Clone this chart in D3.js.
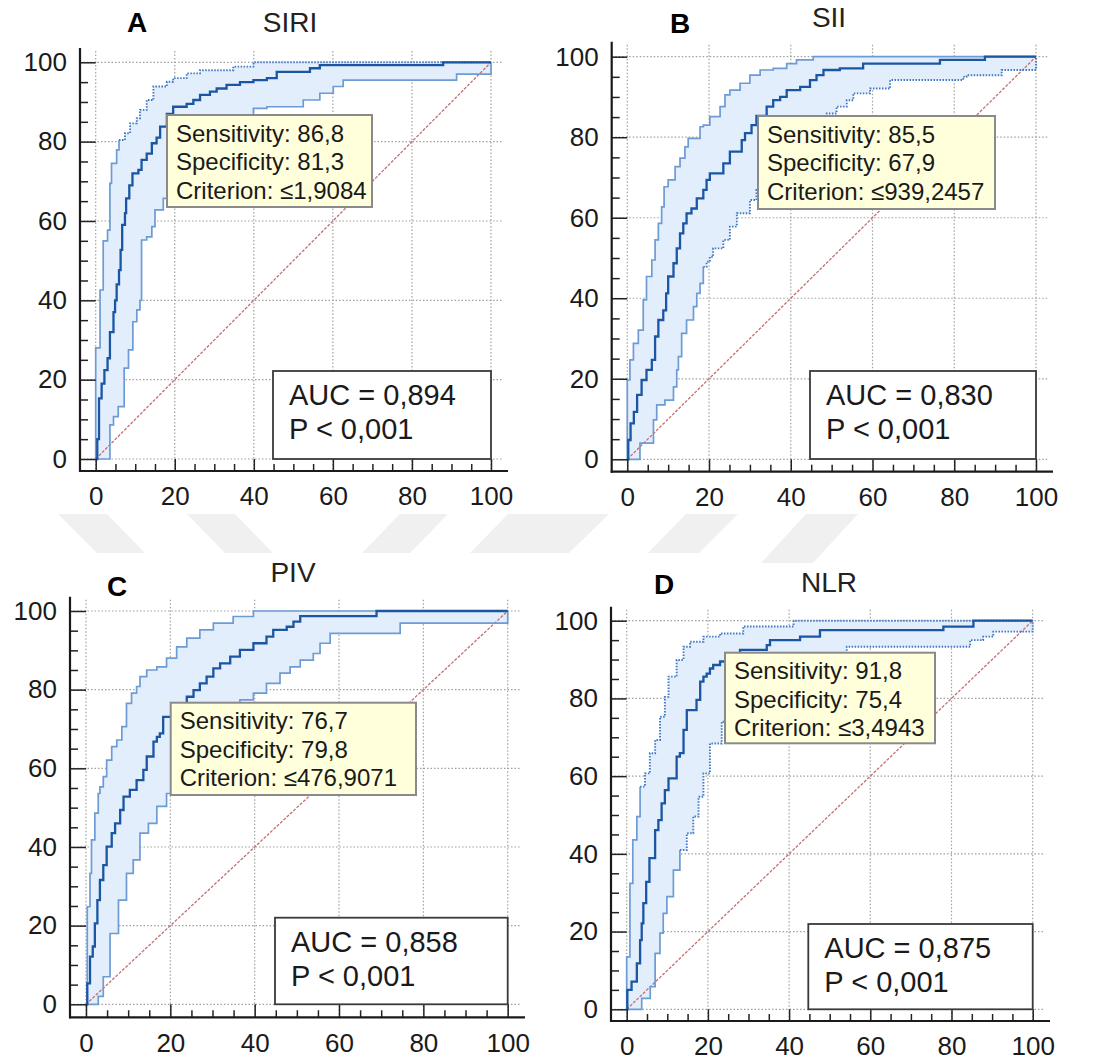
<!DOCTYPE html>
<html>
<head>
  <meta charset="utf-8">
  <script src="https://d3js.org/d3.v7.min.js"></script>
  <style>
  body { margin: 0; background: #fff; }
  svg text { font-family: "Liberation Sans", Arial, sans-serif; fill: #1a1a1a; }
  </style>
</head>
<body>
<svg id="chart" width="1116" height="1063"></svg>
<script>
// ---- data: [100-specificity, sensitivity] ----
var siriMain = [[0,0],[0.4,5],[0.84,15.3],[1.5,19],[2.2,22.4],[3.0,25.4],[3.6,32],[4.5,37],[4.9,40],[5.3,44],[5.9,47.6],[6.3,52.7],[6.7,59],[7.4,62],[7.7,65.7],[8.5,69],[9.3,72],[10.8,72.9],[11.6,75.4],[12.9,77],[14.2,79.6],[15.4,81],[16.3,83.8],[18,87],[19.6,88.8],[23,89.5],[24.7,90.5],[26.4,91.8],[28.9,92.6],[30.6,93.4],[33.1,94.3],[36.5,95],[39.9,95.5],[43.3,96],[45.8,97.6],[54.2,98.5],[56.7,99.3],[87.9,100],[100,100]];
var siriUpper = [[0,0],[0,28],[1.1,42.6],[1.9,55],[3.0,57.7],[3.6,69.5],[4.0,74.5],[5.3,77.9],[5.9,80.4],[7.4,82.1],[8.7,84.6],[10.4,85.9],[11.2,88],[12.9,90.5],[14.6,93.9],[18,95.1],[19.6,96],[23,97.2],[26.4,98],[34.8,98.9],[39.9,100],[100,100]];
var siriLower = [[0,0],[3.6,8.6],[4.5,10.7],[5.7,13.2],[7.2,22.9],[8.3,27.5],[9.4,34.6],[10.4,37.6],[11.2,40],[11.6,55.2],[12.9,56],[14.2,58.6],[15,62.8],[17.1,65.7],[18.8,68.7],[21.3,73.7],[24.7,83.8],[29.8,84.6],[39.9,88.4],[43.3,88.8],[52.5,90.5],[56.7,92.2],[60.1,93.9],[62.6,95.5],[91.3,97],[100,97],[100,100]];

var siiMain = [[0,0],[0.24,4.8],[0.8,8.9],[1.6,11.8],[2.4,16],[3.5,19.7],[4.7,22.2],[6.0,24.7],[6.8,30.5],[7.6,34.6],[8.8,37],[9.5,41.2],[10.0,45.4],[11.3,48.7],[12.1,52.4],[12.9,56.1],[13.7,58.6],[14.5,61.1],[15.7,62.3],[17.0,64.8],[18.6,66.9],[19.4,69.4],[20.2,71],[23.5,73.5],[25.1,76.4],[28.0,79.3],[28.8,81],[30.4,83],[31.6,85.3],[34.1,87.6],[35.7,89.2],[37.4,90],[39.0,91.7],[42.3,92.5],[44.7,94.2],[46.3,95.4],[48.0,96.7],[52.0,97.1],[57.7,98.3],[76.5,99.2],[87.5,100],[100,100]];
var siiUpper = [[0,0],[0,19.7],[0.65,24.7],[1.5,28.8],[2.7,32.1],[3.9,39.6],[4.7,45.4],[6.0,49.5],[6.8,54.5],[7.6,58.6],[8.4,62.7],[9.0,67.7],[10.0,69.4],[11.7,72.7],[12.9,74.8],[14.1,77.6],[14.9,79.7],[17.8,82.6],[18.6,83],[20.2,85.1],[22.7,87.6],[23.9,90.5],[25.1,91.7],[27.6,93.4],[30.0,95.4],[32.5,96.7],[35.7,97.1],[39.0,98.3],[41.4,99.2],[45.5,100],[100,100]];
var siiLower = [[0,0],[3.1,4],[6.4,9.8],[7.2,13.5],[9.2,14.7],[11.3,18],[12.1,22.2],[12.5,25.5],[13.3,31.3],[14.5,34.6],[16.2,37.9],[17.0,41.2],[17.8,43.7],[18.6,47.8],[19.4,49.1],[20.2,50.3],[21.0,52.4],[23.5,54.5],[25.1,57.8],[26.8,61.1],[30.0,64.4],[31.6,66.9],[35.7,73],[40.6,78],[45.5,83],[48.8,85.9],[51.2,87.6],[53.7,89.2],[55.3,90.9],[59.4,92.1],[64.3,94.2],[82.2,95],[83.0,95.4],[91.6,96.7],[100,96.7],[100,100]];

var pivMain = [[0,0],[0.3,5.3],[0.95,12.1],[1.6,14.7],[2.1,20.6],[2.7,26.5],[3.3,31.6],[4.1,35.4],[4.9,40.1],[6.1,43.5],[6.9,46],[8.1,49.4],[8.9,52.8],[10.4,54.5],[12.0,57],[13.6,59.6],[14.4,63],[16.0,66.8],[16.8,68],[17.5,68.9],[18.3,73.1],[20.7,75.3],[22.3,76.5],[23.9,78.2],[25.5,79.9],[27.0,81.6],[28.6,83.3],[30.2,85.4],[31.8,86.7],[34.2,88.4],[36.5,90.1],[39.7,91.8],[42.8,93.5],[44.4,95.2],[47.6,96],[49.2,97.3],[50.8,98.7],[68.9,100],[100,100]];
var pivUpper = [[0,0],[0.3,24.8],[0.95,33.3],[1.3,41.8],[2.1,48.6],[2.9,53.6],[3.3,55.3],[4.1,57.9],[4.9,62.1],[6.1,65.5],[7.3,67.2],[8.5,70.6],[9.6,76.5],[10.8,79.1],[12.0,80.8],[12.8,83.3],[14.4,85],[16.8,85.8],[19.1,88],[21.5,90.9],[23.9,93.1],[27.0,95.2],[30.2,96.9],[34.9,98.6],[39.7,100],[100,100]];
var pivLower = [[0,0],[2.9,2],[4.1,7],[5.7,18],[7.7,26.5],[9.6,33.3],[11.2,36.7],[12.8,43.5],[14.8,46],[16.8,50.3],[19.1,53.6],[20.7,58.7],[27,66],[33.4,73],[36.5,77.4],[39.7,79.1],[42.8,81.6],[46,84.2],[48.4,85.8],[50.8,87.5],[53.9,89.2],[55.5,91.8],[57.9,94.3],[74.5,96.9],[100,96.9],[100,100]];

var nlrMain = [[0,0],[0.16,5],[1.2,7.1],[2.5,11.8],[3.3,17.8],[3.7,22.1],[4.1,27.3],[4.8,32.8],[5.6,38.9],[7.0,46.1],[7.8,48.7],[8.6,53],[9.4,56.4],[10.3,59.4],[12.3,65],[13.1,65.9],[14.0,71.9],[14.8,77],[17.2,79.6],[18.1,84.3],[18.9,85.6],[19.7,86.4],[20.5,87.7],[21.3,88.6],[23.0,89.5],[24.6,90.7],[27.9,92.5],[34.5,93.7],[35.3,95],[42.7,95.9],[47.6,97.6],[78.0,98.5],[85.4,100],[100,100]];
var nlrUpper = [[0,0],[0,13.5],[0.8,32.4],[1.5,43.6],[2.5,49.6],[3.3,57.3],[4.5,60.7],[5.7,65.9],[7.0,69.3],[8.2,75.3],[9.4,80.4],[10.3,85.6],[12.3,89.9],[14.0,93.3],[15.6,94.6],[18.9,95.9],[23.0,96.7],[28.7,98.5],[41.1,100],[100,100]];
var nlrLower = [[0,0],[3.7,2.8],[5.8,5.8],[7.0,14.4],[8.2,19.6],[9.0,24.7],[9.9,29],[11.5,35.8],[13.1,41],[14.8,45.3],[16.4,49.6],[17.7,54.7],[18.9,60.7],[20.5,68.4],[23.4,74],[27.9,78],[36.1,84],[44.3,89],[54.2,93.3],[84.6,95],[87.8,95.9],[90.3,97.2],[100,97.2],[100,100]];

var letters = ["A", "B", "C", "D"];
var titles = ["SIRI", "SII", "PIV", "NLR"];
var sensitivity = ["86,8", "85,5", "76,7", "91,8"];
var specificity = ["81,3", "67,9", "79,8", "75,4"];
var criterion = ["≤1,9084", "≤939,2457", "≤476,9071", "≤3,4943"];
var aucValues = ["0,894", "0,830", "0,858", "0,875"];
var pValues = ["< 0,001", "< 0,001", "< 0,001", "< 0,001"];
var majorTicks = [0, 20, 40, 60, 80, 100];
var minorTicks = [5, 10, 15, 25, 30, 35, 45, 50, 55, 65, 70, 75, 85, 90, 95];

// ---- layout (pixel boxes of each panel) ----
var panels = [
  {main: siriMain, upper: siriUpper, lower: siriLower, dotUpper: 5.9, dotLower: null,
   x0: 95.7, x1: 491, y0: 459, y1: 62.3, axisX: 80, axisY: 471, axisTop: 48, axisRight: 508,
   letter: [137, 32], title: [290, 32], tip: [167, 115, 205, 92], auc: [273, 371, 218, 88]},
  {main: siiMain, upper: siiUpper, lower: siiLower, dotUpper: null, dotLower: 18,
   x0: 627.3, x1: 1036, y0: 459.3, y1: 56.7, axisX: 611.7, axisY: 471.7, axisTop: 41.7, axisRight: 1053,
   letter: [680, 33], title: [829, 27], tip: [758, 116, 237, 93], auc: [810, 371, 226, 88]},
  {main: pivMain, upper: pivUpper, lower: pivLower, dotUpper: null, dotLower: null,
   x0: 86, x1: 507.7, y0: 1004.3, y1: 611, axisX: 70, axisY: 1017.3, axisTop: 596.7, axisRight: 525,
   letter: [117, 596], title: [293, 582], tip: [170.7, 702.7, 245.3, 92.3], auc: [275, 917.7, 232.7, 86.6]},
  {main: nlrMain, upper: nlrUpper, lower: nlrLower, dotUpper: 3.3, dotLower: 13,
   x0: 626.7, x1: 1032.7, y0: 1009.3, y1: 620.7, axisX: 611, axisY: 1021, axisTop: 606.7, axisRight: 1050,
   letter: [664, 594], title: [829, 592], tip: [725, 652.7, 210, 90.6], auc: [808.3, 924, 224.4, 85.3]}
];

// faint watermark stripes between the rows
var stripes = [
  [[58,514],[107,514],[145,553],[97,553]],
  [[187,514],[235,514],[273,553],[225,553]],
  [[400,514],[448,514],[410,553],[362,553]],
  [[508,514],[609,514],[569,553],[470,553]],
  [[686,514],[738,514],[699,553],[648,553]],
  [[806,514],[858,514],[813,563],[761,563]]
];

var svg = d3.select("#chart");
svg.append("rect").attr("width", 1116).attr("height", 1063).attr("fill", "#fff");

svg.selectAll(".stripe").data(stripes).enter().append("polygon")
  .attr("class", "stripe")
  .attr("points", function(d) { return d.map(function(p) { return p.join(","); }).join(" "); })
  .attr("fill", "#f0f0f0");

var mainColor = "#1b56a3", boundColor = "#6d9bd4", fillColor = "#e3eefc";

panels.forEach(function(p, i) {
  var x = d3.scaleLinear().domain([0, 100]).range([p.x0, p.x1]);
  var y = d3.scaleLinear().domain([0, 100]).range([p.y0, p.y1]);
  var g = svg.append("g");

  var stepLine = d3.line().x(function(d) { return x(d[0]); }).y(function(d) { return y(d[1]); }).curve(d3.curveStepAfter);
  var stepBack = d3.line().x(function(d) { return x(d[0]); }).y(function(d) { return y(d[1]); }).curve(d3.curveStepBefore);

  // grid
  g.selectAll(".hgrid").data(majorTicks).enter().append("line")
    .attr("x1", p.axisX).attr("x2", x(100) + 12)
    .attr("y1", function(d) { return y(d); }).attr("y2", function(d) { return y(d); })
    .attr("stroke", "#a0a0a0").attr("stroke-width", 1.2).attr("stroke-dasharray", "1.5,2");
  g.selectAll(".vgrid").data(majorTicks).enter().append("line")
    .attr("y1", p.axisTop + 3).attr("y2", p.axisY)
    .attr("x1", function(d) { return x(d); }).attr("x2", function(d) { return x(d); })
    .attr("stroke", "#a0a0a0").attr("stroke-width", 1.2).attr("stroke-dasharray", "1.5,2");

  // confidence band
  var back = stepBack(p.lower.slice().reverse()).replace(/^M/, "L");
  g.append("path").attr("d", stepLine(p.upper) + back + "Z").attr("fill", fillColor);

  // diagonal
  g.append("line")
    .attr("x1", x(0)).attr("y1", y(0)).attr("x2", x(100)).attr("y2", y(100))
    .attr("stroke", "#c46f6f").attr("stroke-width", 1.3).attr("stroke-dasharray", "3,1.5");

  // bounds (part may be dotted)
  function drawBound(pts, dotFrom) {
    var k = pts.length;
    if (dotFrom !== null) {
      k = pts.findIndex(function(d) { return d[0] >= dotFrom; });
    }
    g.append("path").attr("d", stepLine(pts.slice(0, k + 1)))
      .attr("fill", "none").attr("stroke", boundColor).attr("stroke-width", 1.7);
    if (k < pts.length) {
      g.append("path").attr("d", stepLine(pts.slice(k)))
        .attr("fill", "none").attr("stroke", "#3f78c4").attr("stroke-width", 1.9).attr("stroke-dasharray", "1.5,1.5");
    }
  }
  drawBound(p.upper, p.dotUpper);
  drawBound(p.lower, p.dotLower);

  g.append("path").attr("d", stepLine(p.main))
    .attr("fill", "none").attr("stroke", mainColor).attr("stroke-width", 2.3);

  // axes
  var yMinor = d3.axisLeft(y).tickValues(minorTicks).tickSize(-8).tickFormat("");
  var yMajor = d3.axisLeft(y).tickValues(majorTicks).tickSize(-(p.x0 - p.axisX)).tickPadding(13);
  var xMinor = d3.axisBottom(x).tickValues(minorTicks).tickSize(-7).tickFormat("");
  var xMajor = d3.axisBottom(x).tickValues(majorTicks).tickSize(-(p.axisY - p.y0)).tickPadding(16);

  [yMinor, yMajor].forEach(function(ax) {
    g.append("g").attr("transform", "translate(" + p.axisX + ",0)").call(ax)
      .attr("font-size", 26).attr("font-family", null)
      .call(function(a) { a.select(".domain").remove(); a.selectAll(".tick line").attr("stroke", "#222").attr("stroke-width", 1.5); });
  });
  [xMinor, xMajor].forEach(function(ax) {
    g.append("g").attr("transform", "translate(0," + p.axisY + ")").call(ax)
      .attr("font-size", 26).attr("font-family", null)
      .call(function(a) { a.select(".domain").remove(); a.selectAll(".tick line").attr("stroke", "#222").attr("stroke-width", 1.5); });
  });
  g.append("line").attr("x1", p.axisX).attr("x2", p.axisX).attr("y1", p.axisTop).attr("y2", p.axisY + 1)
    .attr("stroke", "#1a1a1a").attr("stroke-width", 2.2);
  g.append("line").attr("x1", p.axisX - 1).attr("x2", p.axisRight).attr("y1", p.axisY).attr("y2", p.axisY)
    .attr("stroke", "#1a1a1a").attr("stroke-width", 2.2);

  // criterion box
  var tip = g.append("g");
  tip.append("rect").attr("x", p.tip[0]).attr("y", p.tip[1]).attr("width", p.tip[2]).attr("height", p.tip[3])
    .attr("fill", "#ffffdc").attr("stroke", "#8a8a8a").attr("stroke-width", 2);
  ["Sensitivity: " + sensitivity[i], "Specificity: " + specificity[i], "Criterion: " + criterion[i]].forEach(function(t, j) {
    tip.append("text").attr("x", p.tip[0] + 9).attr("y", p.tip[1] + 26.5 + j * 28.5)
      .attr("font-size", 24).text(t);
  });

  // AUC box
  var auc = g.append("g");
  auc.append("rect").attr("x", p.auc[0]).attr("y", p.auc[1]).attr("width", p.auc[2]).attr("height", p.auc[3])
    .attr("fill", "#fff").attr("stroke", "#3a3a3a").attr("stroke-width", 1.8);
  auc.append("text").attr("x", p.auc[0] + 16).attr("y", p.auc[1] + 34).attr("font-size", 29).text("AUC = " + aucValues[i]);
  auc.append("text").attr("x", p.auc[0] + 16).attr("y", p.auc[1] + 68).attr("font-size", 29).text("P " + pValues[i]);

  // titles
  g.append("text").attr("x", p.letter[0]).attr("y", p.letter[1]).attr("text-anchor", "middle")
    .attr("font-size", 28).attr("font-weight", "bold").style("fill", "#000").text(letters[i]);
  g.append("text").attr("x", p.title[0]).attr("y", p.title[1]).attr("text-anchor", "middle")
    .attr("font-size", 28).style("fill", "#222").text(titles[i]);
});
</script>
</body>
</html>
